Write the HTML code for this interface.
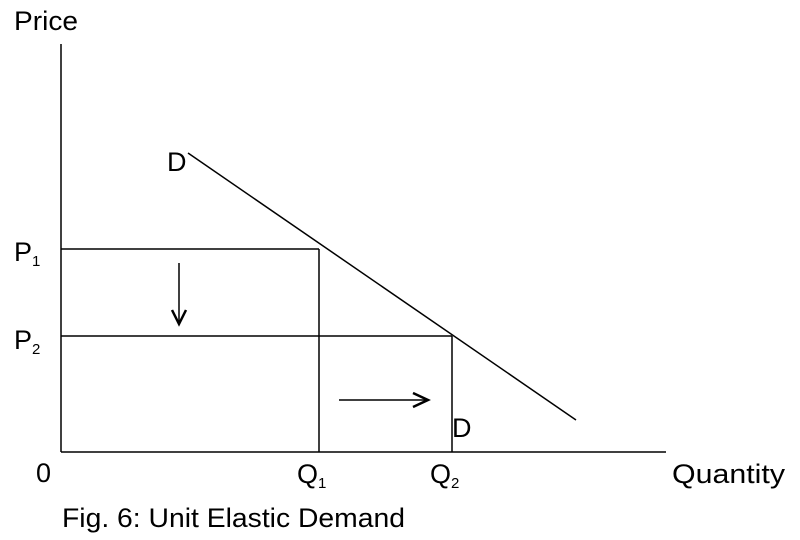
<!DOCTYPE html>
<html><head><style>
html,body{margin:0;padding:0;background:#fff;}
svg{display:block;}
text{font-family:"Liberation Sans",sans-serif;fill:#000;}
</style></head><body>
<svg width="800" height="540" viewBox="0 0 800 540" xmlns="http://www.w3.org/2000/svg">
<g stroke="#000" stroke-width="1.5" fill="none">
<line x1="61" y1="44" x2="61" y2="452"/>
<line x1="61" y1="452" x2="666" y2="452"/>
<line x1="61" y1="249" x2="319" y2="249"/>
<line x1="319" y1="249" x2="319" y2="452"/>
<line x1="61" y1="336" x2="452" y2="336"/>
<line x1="452" y1="336" x2="452" y2="452"/>
<line x1="188" y1="153" x2="576" y2="420"/>
<line x1="179" y1="263" x2="179" y2="324"/>
<polyline points="172,310 179,324 186,310" stroke-width="2.5"/>
<line x1="339" y1="400" x2="427" y2="400"/>
<polyline points="413,393 428,400 413,407" stroke-width="2.5"/>
</g>
<text x="14" y="30" font-size="27" textLength="64" lengthAdjust="spacingAndGlyphs">Price</text>
<text x="167" y="171" font-size="27">D</text>
<text x="14" y="261" font-size="27">P<tspan font-size="15" dy="5">1</tspan></text>
<text x="14" y="349" font-size="27">P<tspan font-size="15" dy="5">2</tspan></text>
<text x="36" y="482" font-size="27">0</text>
<text x="297" y="483" font-size="27">Q<tspan font-size="15" dy="5">1</tspan></text>
<text x="430" y="483" font-size="27">Q<tspan font-size="15" dy="5">2</tspan></text>
<text x="452" y="437" font-size="27">D</text>
<text x="672" y="483" font-size="27" textLength="113" lengthAdjust="spacingAndGlyphs">Quantity</text>
<text x="62" y="527" font-size="27" textLength="343" lengthAdjust="spacingAndGlyphs">Fig. 6: Unit Elastic Demand</text>
</svg>
</body></html>
